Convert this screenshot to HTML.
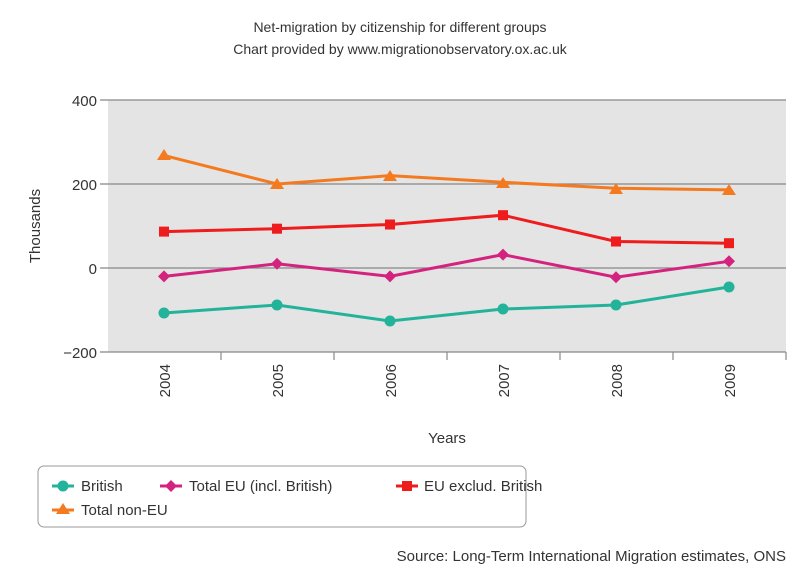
<!DOCTYPE html>
<html><head><style>body{margin:0;background:#fff}</style></head><body>
<svg width="800" height="571" xmlns="http://www.w3.org/2000/svg" font-family="Liberation Sans, DejaVu Sans, sans-serif">
<text x="400" y="32" text-anchor="middle" font-size="14" fill="#333">Net-migration by citizenship for different groups</text>
<text x="400" y="54" text-anchor="middle" font-size="14" fill="#333">Chart provided by www.migrationobservatory.ox.ac.uk</text>
<rect x="108" y="100" width="678" height="252" fill="#e4e4e4"/>
<g stroke="#888" stroke-width="1.2">
<line x1="100" y1="100" x2="786" y2="100"/><line x1="100" y1="184" x2="786" y2="184"/>
<line x1="100" y1="268" x2="786" y2="268"/><line x1="100" y1="352" x2="786" y2="352"/>
<line x1="221" y1="352" x2="221" y2="360"/><line x1="334" y1="352" x2="334" y2="360"/><line x1="447" y1="352" x2="447" y2="360"/><line x1="560" y1="352" x2="560" y2="360"/><line x1="673" y1="352" x2="673" y2="360"/><line x1="786" y1="352" x2="786" y2="360"/>
</g>
<g font-size="15" fill="#333" text-anchor="end">
<text x="97" y="106">400</text><text x="97" y="190">200</text><text x="97" y="274">0</text><text x="97" y="358">−200</text>
</g>
<text transform="translate(40,226) rotate(-90)" text-anchor="middle" font-size="15" fill="#333">Thousands</text>
<g font-size="15" fill="#333" text-anchor="end">
<text transform="translate(170,364) rotate(-90)">2004</text>
<text transform="translate(283,364) rotate(-90)">2005</text>
<text transform="translate(396,364) rotate(-90)">2006</text>
<text transform="translate(509,364) rotate(-90)">2007</text>
<text transform="translate(622,364) rotate(-90)">2008</text>
<text transform="translate(735,364) rotate(-90)">2009</text>
</g>
<text x="447" y="443" text-anchor="middle" font-size="15" fill="#333">Years</text>
<polyline points="164,155.4 277,184 390,175.6 503,182.3 616,188.2 729,189.9" fill="none" stroke="#f47a20" stroke-width="3"/>
<g fill="#f47a20"><path d="M164,149l7,11h-14z"/><path d="M277,178l7,11h-14z"/><path d="M390,170l7,11h-14z"/><path d="M503,177l7,11h-14z"/><path d="M616,183l7,11h-14z"/><path d="M729,184l7,11h-14z"/></g>
<polyline points="164,231.6 277,228.7 390,224.5 503,215.2 616,241.5 729,243.2" fill="none" stroke="#ee1c1c" stroke-width="3"/>
<g fill="#ee1c1c"><rect x="159" y="226.6" width="10" height="10"/><rect x="272" y="223.7" width="10" height="10"/><rect x="385" y="219.5" width="10" height="10"/><rect x="498" y="210.2" width="10" height="10"/><rect x="611" y="236.5" width="10" height="10"/><rect x="724" y="238.2" width="10" height="10"/></g>
<polyline points="164,276.4 277,263.8 390,276.4 503,254.6 616,277.2 729,261.3" fill="none" stroke="#d4237f" stroke-width="3"/>
<g fill="#d4237f"><path d="M164,270.4l6,6l-6,6l-6,-6z"/><path d="M277,257.8l6,6l-6,6l-6,-6z"/><path d="M390,270.4l6,6l-6,6l-6,-6z"/><path d="M503,248.6l6,6l-6,6l-6,-6z"/><path d="M616,271.2l6,6l-6,6l-6,-6z"/><path d="M729,255.3l6,6l-6,6l-6,-6z"/></g>
<polyline points="164,313 277,305 390,321 503,309 616,305 729,287" fill="none" stroke="#22b39a" stroke-width="3"/>
<g fill="#22b39a"><circle cx="164" cy="313" r="5.5"/><circle cx="277" cy="305" r="5.5"/><circle cx="390" cy="321" r="5.5"/><circle cx="503" cy="309" r="5.5"/><circle cx="616" cy="305" r="5.5"/><circle cx="729" cy="287" r="5.5"/></g>
<rect x="38" y="466" width="488" height="61" rx="6" fill="#fff" stroke="#999" stroke-width="1"/>
<g font-size="15" fill="#333">
<line x1="52" y1="486" x2="74" y2="486" stroke="#22b39a" stroke-width="3"/><circle cx="63" cy="486" r="5.5" fill="#22b39a"/><text x="81" y="491">British</text>
<line x1="160" y1="486" x2="182" y2="486" stroke="#d4237f" stroke-width="3"/><path d="M171,480l6,6l-6,6l-6,-6z" fill="#d4237f"/><text x="189" y="491">Total EU (incl. British)</text>
<line x1="396" y1="486" x2="418" y2="486" stroke="#ee1c1c" stroke-width="3"/><rect x="402" y="481" width="10" height="10" fill="#ee1c1c"/><text x="424" y="491">EU exclud. British</text>
<line x1="52" y1="510" x2="74" y2="510" stroke="#f47a20" stroke-width="3"/><path d="M63,503l7,11h-14z" fill="#f47a20"/><text x="81" y="515">Total non-EU</text>
</g>
<text x="786" y="561" text-anchor="end" font-size="15" fill="#333">Source:  Long-Term International Migration estimates, ONS</text>
</svg>
</body></html>
